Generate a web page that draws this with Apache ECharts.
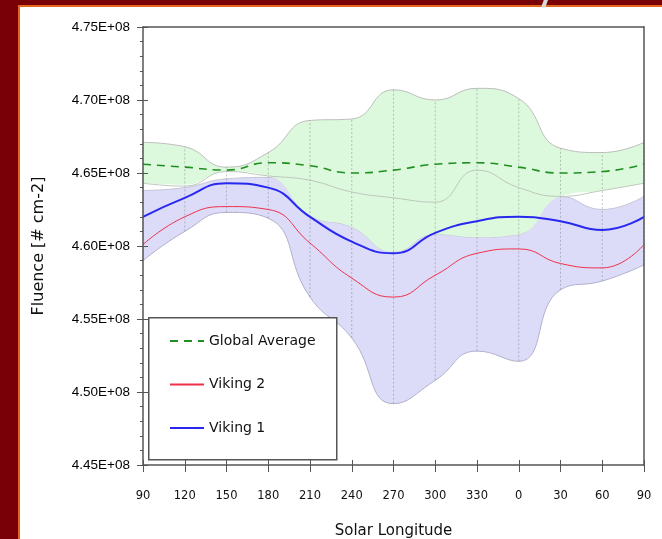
<!DOCTYPE html>
<html><head><meta charset="utf-8">
<script src="https://cdn.jsdelivr.net/npm/echarts@6/dist/echarts.min.js"></script>
<style>
html,body{margin:0;padding:0;width:662px;height:539px;overflow:hidden;background:#7a0008;}
#panel{position:absolute;left:18px;top:5px;right:0;bottom:0;background:#fff;border-left:2px solid #e5661f;border-top:2px solid #e5661f;}
#slash{position:absolute;left:543px;top:-3px;width:4px;height:11px;background:#d8d8d8;transform:rotate(20deg);border-radius:2px;}
#chart{position:absolute;left:0;top:0;width:662px;height:539px;}
</style></head><body>
<div id="panel"></div><div id="slash"></div><div id="chart"></div>
<script>
// Solar longitude categories (wraps round through 0)
const categories = ['90','120','150','180','210','240','270','300','330','0','30','60','90'];
// Series values (fluence, # cm-2)
const globalAvg = [4.656e8, 4.654e8, 4.652e8, 4.657e8, 4.655e8, 4.650e8, 4.652e8, 4.656e8, 4.657e8, 4.654e8, 4.650e8, 4.651e8, 4.656e8];
const viking2   = [4.601e8, 4.620e8, 4.627e8, 4.625e8, 4.602e8, 4.578e8, 4.565e8, 4.580e8, 4.595e8, 4.598e8, 4.588e8, 4.585e8, 4.601e8];
const viking1   = [4.620e8, 4.633e8, 4.643e8, 4.640e8, 4.620e8, 4.603e8, 4.595e8, 4.609e8, 4.617e8, 4.620e8, 4.617e8, 4.611e8, 4.620e8];
// Global range band
const globalMax = [4.671e8, 4.668e8, 4.654e8, 4.664e8, 4.686e8, 4.687e8, 4.707e8, 4.700e8, 4.708e8, 4.701e8, 4.667e8, 4.664e8, 4.671e8];
const globalMin = [4.643e8, 4.641e8, 4.651e8, 4.648e8, 4.645e8, 4.637e8, 4.633e8, 4.630e8, 4.652e8, 4.640e8, 4.634e8, 4.638e8, 4.643e8];
const greenLow  = [4.643e8, 4.642e8, 4.651e8, 4.648e8, 4.621e8, 4.613e8, 4.596e8, 4.608e8, 4.606e8, 4.608e8, 4.634e8, 4.638e8, 4.643e8];
// Viking range band
const bandMax   = [4.638e8, 4.640e8, 4.646e8, 4.647e8, 4.621e8, 4.613e8, 4.596e8, 4.608e8, 4.606e8, 4.608e8, 4.634e8, 4.625e8, 4.634e8];
const bandMin   = [4.590e8, 4.610e8, 4.623e8, 4.619e8, 4.565e8, 4.537e8, 4.492e8, 4.508e8, 4.528e8, 4.521e8, 4.570e8, 4.576e8, 4.587e8];
// Y axis range
const yMin = 4.45e8, yMax = 4.75e8, yStep = 0.05e8;

const diff = (a, b) => a.map((v, i) => v - b[i]);
const FONT = 'DejaVu Sans';
const AX = '#555';

const chart = echarts.init(document.getElementById('chart'), null, {renderer: 'canvas'});
const catAxisBase = {type: 'category', data: categories, boundaryGap: false, z: 10};
chart.setOption({
  animation: false,
  backgroundColor: 'transparent',
  grid: {left: 143, top: 27, width: 501, height: 438, show: false, containLabel: false, outerBoundsMode: 'none'},
  xAxis: [
    Object.assign({}, catAxisBase, {
      position: 'bottom',
      axisLine: {lineStyle: {color: AX, width: 1.5}},
      axisTick: {length: 7, lineStyle: {color: AX}},
      axisLabel: {color: '#111', fontSize: 11.5, fontFamily: FONT, margin: 25, interval: 0},
      splitLine: {show: false},
      name: 'Solar Longitude', nameLocation: 'middle', nameGap: 59,
      nameTextStyle: {fontSize: 15, fontFamily: FONT, color: '#111'}
    }),
    Object.assign({}, catAxisBase, {
      position: 'bottom',
      axisLine: {show: false},
      axisTick: {inside: true, length: 5, lineStyle: {color: AX}},
      axisLabel: {show: false}, splitLine: {show: false}
    }),
    Object.assign({}, catAxisBase, {
      position: 'top',
      axisLine: {lineStyle: {color: AX, width: 1.5}},
      axisTick: {show: false}, axisLabel: {show: false}, splitLine: {show: false}
    })
  ],
  yAxis: [
    {
      type: 'value', min: yMin, max: yMax, interval: yStep, position: 'left', z: 10,
      axisLine: {show: true, lineStyle: {color: AX, width: 1.5}},
      axisTick: {show: true, length: 6, lineStyle: {color: AX}},
      minorTick: {show: true, splitNumber: 5, length: 3, lineStyle: {color: AX}},
      splitLine: {show: false}, minorSplitLine: {show: false},
      axisLabel: {
        formatter: v => (v / 1e8).toFixed(2) + 'E+08',
        margin: 13, fontSize: 13.5, fontFamily: 'Liberation Sans', color: '#000'
      },
      name: 'Fluence [# cm-2]', nameLocation: 'middle', nameGap: 96,
      nameTextStyle: {fontSize: 16, fontFamily: FONT, color: '#111'}
    },
    {
      type: 'value', min: yMin, max: yMax, interval: yStep, position: 'left', z: 10,
      axisLine: {show: false},
      axisTick: {show: true, inside: true, length: 5, lineStyle: {color: AX}},
      axisLabel: {show: false}, splitLine: {show: false}
    },
    {
      type: 'value', min: yMin, max: yMax, interval: yStep, position: 'right', z: 10,
      axisLine: {show: true, lineStyle: {color: AX, width: 1.5}},
      axisTick: {show: false}, axisLabel: {show: false}, splitLine: {show: false}
    }
  ],
  legend: {
    data: ['Global Average', 'Viking 2', 'Viking 1'],
    orient: 'vertical', left: 169, top: 334, padding: 0,
    itemWidth: 34, itemHeight: 14, itemGap: 29.5,
    itemStyle: {opacity: 0},
    textStyle: {fontSize: 14, fontFamily: FONT, color: '#111', lineHeight: 14},
    z: 20
  },
  graphic: [{
    type: 'rect', left: 148, top: 317, z: 15,
    shape: {width: 188, height: 142},
    style: {fill: '#fff', stroke: '#555', lineWidth: 1.5}
  }],
  series: [
    {name: 'bandLow', type: 'line', stack: 'viking', data: bandMin, smooth: 0.5, symbol: 'none', silent: true, z: 1,
     lineStyle: {color: '#b0b0cc', width: 1}},
    {name: 'bandHigh', type: 'line', stack: 'viking', data: diff(bandMax, bandMin), smooth: 0.5, symbol: 'none', silent: true, z: 1,
     lineStyle: {color: '#c4c4d8', width: 1}, areaStyle: {color: '#dcdcf8', opacity: 1}},
    {name: 'greenLow', type: 'line', stack: 'global', data: greenLow, smooth: 0.5, symbol: 'none', silent: true, z: 2,
     lineStyle: {opacity: 0}},
    {name: 'greenHigh', type: 'line', stack: 'global', data: diff(globalMax, greenLow), smooth: 0.5, symbol: 'none', silent: true, z: 2,
     lineStyle: {color: '#bdbdbd', width: 1}, areaStyle: {color: '#ddf9dd', opacity: 1}},
    {name: 'drops', type: 'custom', silent: true, z: 3,
     data: categories.map((c, i) => [i, bandMin[i], globalMax[i]]),
     encode: {x: 0, y: [1, 2]},
     renderItem: (params, api) => {
       const a = api.coord([api.value(0), api.value(1)]);
       const b = api.coord([api.value(0), api.value(2)]);
       return {type: 'line', shape: {x1: a[0], y1: a[1], x2: b[0], y2: b[1]},
               style: {stroke: 'rgba(110,110,110,0.4)', lineWidth: 1, lineDash: [2, 2]}};
     }},
    {name: 'globalMin', type: 'line', data: globalMin, smooth: 0.5, symbol: 'none', silent: true, z: 4,
     lineStyle: {color: '#bcc8bc', width: 1}},
    {name: 'Viking 2', type: 'line', data: viking2, smooth: 0.5, symbol: 'none', z: 5,
     lineStyle: {color: '#f0304a', width: 1}, itemStyle: {color: '#f0304a'}},
    {name: 'Viking 1', type: 'line', data: viking1, smooth: 0.5, symbol: 'none', z: 5,
     lineStyle: {color: '#2828f0', width: 2}, itemStyle: {color: '#2828f0'}},
    {name: 'Global Average', type: 'line', data: globalAvg, smooth: 0.5, symbol: 'none', z: 5,
     lineStyle: {color: '#1f8f1f', width: 1.6, type: [8, 6]}, itemStyle: {color: '#1f8f1f'}}
  ]
});
</script>
</body></html>
